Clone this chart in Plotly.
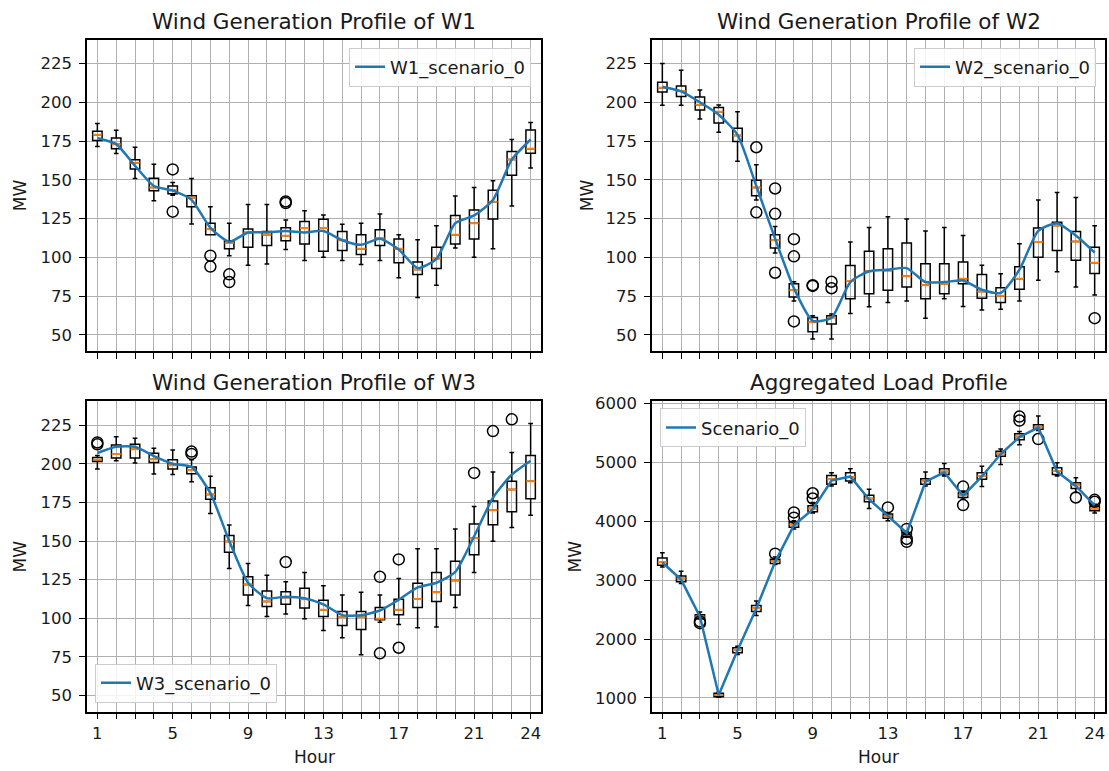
import plotly.graph_objects as go

hours = list(range(1, 25))
hour_ticktext = ["1", "", "", "", "5", "", "", "", "9", "", "", "", "13", "", "", "", "17", "", "", "", "21", "", "", "24"]

# ---------- W1 ----------
w1_lo = [171.5, 167, 150.8, 136.5, 140, 121.5, 114.5, 101, 94.9, 95.7, 105, 97.9, 100, 97.9, 95.3, 97.9, 86.8, 74, 81.9, 106, 100, 105.5, 133.1, 157.6]
w1_q1 = [175.3, 170, 157, 143, 141, 132.6, 114.5, 105.5, 106.4, 107.6, 110.7, 108.5, 103.8, 104.3, 101.7, 107.6, 96.4, 88.9, 92.7, 108.5, 111.8, 124.7, 152.9, 167.2]
w1_med = [179, 173, 161, 145, 143.3, 138.4, 118, 109.2, 116, 114.5, 113.8, 118.8, 118.8, 111, 105.5, 112.4, 105.5, 92.1, 99.2, 114.5, 122, 135.8, 163.1, 170]
w1_q3 = [181.3, 177, 163, 151, 146, 139.7, 122, 110.7, 118.3, 116.6, 119, 123, 124.5, 116.6, 114.5, 117.7, 111.8, 97, 106.4, 126.9, 130.5, 143.3, 168.3, 182.1]
w1_hi = [186.4, 182, 171, 160, 148.2, 150.8, 132.6, 122, 134, 134, 124.1, 130, 127.3, 121.3, 122, 127.9, 114.5, 111.3, 120.3, 139.5, 145, 149.3, 176, 187]
w1_line = [177, 173, 159, 146, 143, 137, 119, 110, 116, 116, 117, 116, 117, 111, 108, 112, 105, 93, 99, 122, 127, 137, 163, 176]
w1_out_x = [5, 5, 7, 7, 8, 8, 11, 11]
w1_out_y = [156.7, 129.4, 101, 94, 89, 84, 136, 135]

# ---------- W2 ----------
w2_lo = [198.1, 198.1, 189.2, 180.6, 161.9, 136.9, 102.8, 71.8, 47.3, 47.3, 63.7, 68, 70.8, 71.8, 60.7, 73.3, 68.2, 65.9, 66.5, 71.8, 85.1, 90.6, 80.8, 75.7]
w2_q1 = [206.7, 203.7, 195.1, 186.6, 174.7, 139.7, 106, 74.4, 52, 56.9, 73.3, 76.5, 78.7, 80.8, 73.3, 76.5, 82.9, 73.5, 70.8, 79.3, 100, 104.3, 98.1, 89.5]
w2_med = [209.4, 207.3, 198.5, 193.9, 178.5, 145, 110.9, 78.7, 58, 61.2, 84.6, 91, 91.4, 87.8, 81.9, 82.9, 86.1, 77.9, 75.1, 86.1, 109.8, 120.5, 110.2, 96.4]
w2_q3 = [213, 210.5, 203.5, 196.6, 183.2, 149.7, 114.5, 82.9, 61.2, 62.2, 94.7, 103.8, 105.5, 109.2, 95.8, 95.8, 97, 88.9, 80.4, 93.8, 118.8, 122.6, 116.6, 106.4]
w2_hi = [225, 220.7, 208, 198.3, 193.9, 159.7, 119.8, 84.2, 62.2, 63.3, 109.8, 119.2, 126.2, 124.7, 117, 119.2, 114, 94.9, 89.3, 108.7, 136.9, 141.8, 138.6, 120.3]
w2_line = [210, 207, 200, 192, 179, 146, 112, 80, 59, 61, 84, 91, 92, 93, 84, 84, 85, 79, 77, 92, 117, 122, 114, 103]
w2_out_x = [6, 6, 7, 7, 7, 8, 8, 8, 9, 9, 10, 10, 24]
w2_out_y = [171, 129, 144.4, 128, 90, 111.7, 100.6, 58.6, 81.5, 82, 84.2, 80, 60.7]

# ---------- W3 ----------
w3_lo = [196.6, 201.9, 200.5, 193.4, 193, 188.3, 167.8, 132.2, 108.3, 101.2, 102.7, 99.7, 92, 87.4, 76.3, 97.4, 95.9, 93.8, 94.4, 106.9, 129.6, 149.9, 158.8, 166.7]
w3_q1 = [201.5, 203.7, 203.7, 200.9, 196.6, 193.6, 177, 142.8, 115.1, 107.6, 109.1, 106.6, 101.2, 95.3, 92.7, 99, 102.3, 106.9, 110.8, 115.1, 141.1, 160.6, 168.9, 177.4]
w3_med = [202.6, 206.4, 209.4, 203, 199, 195.8, 180.2, 149.7, 121.9, 110.8, 113.4, 112.3, 105.5, 100.6, 100.6, 99.7, 105.5, 112.5, 116.8, 124.5, 151.8, 169.9, 183.4, 188.7]
w3_q3 = [204.1, 212.2, 212.6, 206.9, 202.6, 197.9, 184.5, 153.5, 126.8, 117.7, 117.2, 119.4, 111.7, 104.4, 104.4, 106.9, 112.3, 122.6, 129.6, 136.9, 161, 175.9, 188.7, 205.4]
w3_hi = [205.4, 217.5, 216.5, 210, 209, 202.6, 191.9, 160.3, 135.4, 127.9, 123.6, 129.6, 121.1, 115.1, 116.8, 115.1, 125.8, 145, 145, 157.8, 172.3, 194.7, 207.3, 226.1]
w3_line = [207, 211, 211, 205, 200, 198, 181, 150, 123, 113, 114, 113, 109, 102, 102, 105, 112, 120, 123, 130, 153, 178, 193, 202]
w3_out_x = [1, 1, 6, 6, 11, 16, 16, 17, 17, 21, 22, 23]
w3_out_y = [213.8, 212.6, 207.9, 206.4, 136.4, 126.8, 77.3, 138.1, 80.9, 194.1, 221.2, 228.8]

# ---------- Aggregated load ----------
ld_lo = [3225, 2945, 2340, 1012, 1740, 2402, 3265, 3870, 4139, 4599, 4655, 4218, 4010, 3730, 4599, 4767, 4375, 4588, 4963, 5299, 5540, 4767, 4487, 4140]
ld_q1 = [3254, 2973, 2345, 1023, 1768, 2469, 3282, 3898, 4162, 4627, 4683, 4330, 4050, 3745, 4627, 4795, 4403, 4711, 5103, 5383, 5560, 4795, 4554, 4180]
ld_med = [3310, 3029, 2385, 1051, 1813, 2525, 3321, 3943, 4218, 4711, 4750, 4386, 4083, 3770, 4677, 4845, 4442, 4767, 5148, 5440, 5596, 4851, 4610, 4218]
ld_q3 = [3377, 3069, 2413, 1079, 1852, 2570, 3355, 3993, 4262, 4778, 4823, 4442, 4122, 3810, 4722, 4890, 4487, 4823, 5187, 5484, 5636, 4907, 4655, 4260]
ld_hi = [3466, 3153, 2458, 1096, 1880, 2648, 3394, 4010, 4318, 4823, 4890, 4543, 4150, 3830, 4834, 4980, 4515, 4935, 5226, 5524, 5787, 4991, 4739, 4290]
ld_line = [3300, 3010, 2380, 1050, 1810, 2520, 3310, 3930, 4200, 4690, 4760, 4370, 4090, 3800, 4670, 4830, 4430, 4760, 5140, 5430, 5590, 4840, 4600, 4270]
ld_out_x = [3, 3, 7, 8, 8, 9, 9, 13, 14, 14, 14, 17, 17, 20, 20, 21, 23, 24, 24]
ld_out_y = [2270, 2300, 3450, 4150, 4060, 4475, 4386, 4234, 3870, 3700, 3650, 4588, 4274, 5776, 5709, 5395, 4403, 4363, 4330]

titles = ["Wind Generation Profile of W1", "Wind Generation Profile of W2",
          "Wind Generation Profile of W3", "Aggregated Load Profile"]
legend_names = ["W1_scenario_0", "W2_scenario_0", "W3_scenario_0", "Scenario_0"]

panels = [
    (w1_lo, w1_q1, w1_med, w1_q3, w1_hi, w1_line, w1_out_x, w1_out_y),
    (w2_lo, w2_q1, w2_med, w2_q3, w2_hi, w2_line, w2_out_x, w2_out_y),
    (w3_lo, w3_q1, w3_med, w3_q3, w3_hi, w3_line, w3_out_x, w3_out_y),
    (ld_lo, ld_q1, ld_med, ld_q3, ld_hi, ld_line, ld_out_x, ld_out_y),
]

W, H = 1109, 771
# pixel boxes of the 4 axes: (left, right, top, bottom)
boxes = [(87, 541, 33, 347), (652, 1105, 33, 347), (87, 541, 398, 711), (652, 1105, 398, 711)]

FONT = "DejaVu Sans"
BLUE = "#1f77b4"
ORANGE = "#ff7f0e"
TXT = "#1a1a1a"

fig = go.Figure()
legend_ids = ["legend", "legend2", "legend3", "legend4"]

for i, (lo, q1, med, q3, hi, line, ox, oy) in enumerate(panels):
    xa = "x" if i == 0 else f"x{i+1}"
    ya = "y" if i == 0 else f"y{i+1}"
    fig.add_trace(go.Box(
        x=hours, q1=q1, median=med, q3=q3, lowerfence=lo, upperfence=hi,
        width=0.5, whiskerwidth=0.5, boxpoints=False,
        line=dict(color="black", width=1.5), fillcolor="rgba(0,0,0,0)",
        showlegend=False, hoverinfo="skip", xaxis=xa, yaxis=ya))
    fig.add_trace(go.Scatter(
        x=hours, y=med, mode="markers",
        marker=dict(symbol="line-ew", size=6.5, line=dict(color=ORANGE, width=2)),
        showlegend=False, hoverinfo="skip", xaxis=xa, yaxis=ya))
    fig.add_trace(go.Scatter(
        x=ox, y=oy, mode="markers",
        marker=dict(symbol="circle-open", size=11, color="black", line=dict(color="black", width=1.5)),
        showlegend=False, hoverinfo="skip", xaxis=xa, yaxis=ya))
    fig.add_trace(go.Scatter(
        x=hours, y=line, mode="lines", name=legend_names[i],
        line=dict(color=BLUE, width=2.5, shape="linear" if i == 3 else "spline", smoothing=0.6),
        showlegend=True, legend=legend_ids[i], xaxis=xa, yaxis=ya))

layout = dict(
    width=W, height=H, margin=dict(l=0, r=0, t=0, b=0),
    paper_bgcolor="white", plot_bgcolor="white",
    font=dict(family=FONT, size=16, color=TXT),
    showlegend=True, annotations=[],
)

for i, (l, r, t, b) in enumerate(boxes):
    xk = "xaxis" if i == 0 else f"xaxis{i+1}"
    yk = "yaxis" if i == 0 else f"yaxis{i+1}"
    ya = "y" if i == 0 else f"y{i+1}"
    xa = "x" if i == 0 else f"x{i+1}"
    bottom_row = i >= 2
    layout[xk] = dict(
        domain=[l / W, r / W], anchor=ya, range=[0.45, 24.55],
        tickmode="array", tickvals=hours,
        ticktext=hour_ticktext if bottom_row else [""] * 24,
        ticks="outside", ticklen=6, tickcolor="black", tickwidth=1.3,
        showgrid=True, gridcolor="#b0b0b0", gridwidth=1.3,
        showline=True, linecolor="black", linewidth=1.5, mirror=True,
        zeroline=False, tickfont=dict(size=16.5, color=TXT),
    )
    if i < 3:
        yr, yt = [39.6, 240.4], [50, 75, 100, 125, 150, 175, 200, 225]
    else:
        yr, yt = [770, 6034], [1000, 2000, 3000, 4000, 5000, 6000]
    layout[yk] = dict(
        domain=[1 - b / H, 1 - t / H], anchor=xa, range=yr,
        tickmode="array", tickvals=yt,
        ticks="outside", ticklen=6, tickcolor="black", tickwidth=1.3,
        showgrid=True, gridcolor="#b0b0b0", gridwidth=1.3,
        showline=True, linecolor="black", linewidth=1.5, mirror=True,
        zeroline=False, tickfont=dict(size=16.5, color=TXT), ticklabelstandoff=4,
    )
    # title
    layout["annotations"].append(dict(
        text=titles[i], x=(l + r) / 2 / W, y=1 - (t - 4) / H, xref="paper", yref="paper",
        xanchor="center", yanchor="bottom", showarrow=False, font=dict(size=21.5, color=TXT)))
    # y label
    ylx = 20 if i in (0, 2) else (587 if i == 1 else 575)
    layout["annotations"].append(dict(
        text="MW", x=ylx / W, y=1 - (t + b) / 2 / H, xref="paper", yref="paper",
        xanchor="center", yanchor="middle", textangle=-90, showarrow=False,
        font=dict(size=17, color=TXT)))
    if bottom_row:
        layout["annotations"].append(dict(
            text="Hour", x=(l + r) / 2 / W, y=1 - 757 / H, xref="paper", yref="paper",
            xanchor="center", yanchor="middle", showarrow=False,
            font=dict(size=17, color=TXT)))

leg_common = dict(bgcolor="rgba(255,255,255,0.85)", bordercolor="#cccccc", borderwidth=1,
                  font=dict(size=18, color=TXT), xref="paper", yref="paper")
layout["legend"] = dict(x=531 / W, y=1 - 41 / H, xanchor="right", yanchor="top", **leg_common)
layout["legend2"] = dict(x=1096 / W, y=1 - 41 / H, xanchor="right", yanchor="top", **leg_common)
layout["legend3"] = dict(x=95 / W, y=1 - 702 / H, xanchor="left", yanchor="bottom", **leg_common)
layout["legend4"] = dict(x=660 / W, y=1 - 405 / H, xanchor="left", yanchor="top", **leg_common)

fig.update_layout(**layout)
fig.write_html("out.html")
